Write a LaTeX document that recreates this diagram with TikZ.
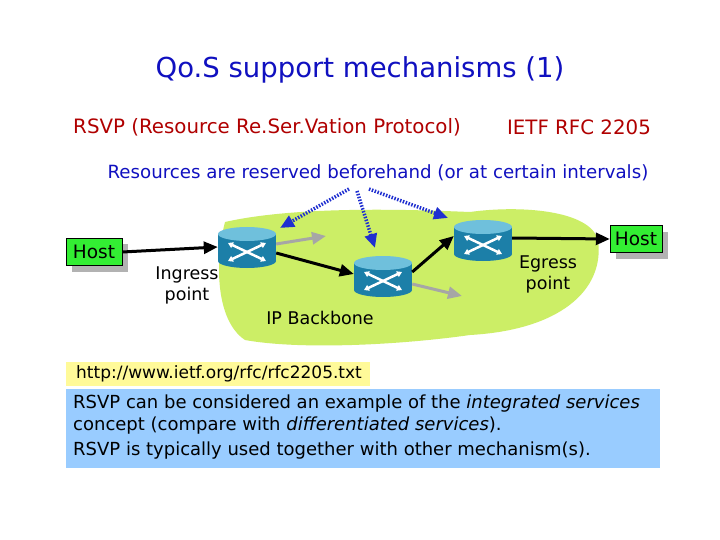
\documentclass[tikz,border=0pt]{standalone}
\usepackage{fontspec}
\setmainfont{DejaVu Sans}
\usetikzlibrary{arrows.meta,shapes.geometric,calc}
\definecolor{tblue}{HTML}{1010C0}
\definecolor{tred}{HTML}{B00000}
\definecolor{blob}{HTML}{CCEE66}
\definecolor{hostg}{HTML}{33EE33}
\definecolor{rtr}{HTML}{1C7FA8}
\definecolor{rtrtop}{HTML}{6FC0DC}
\definecolor{dotb}{HTML}{1F2FD0}
\tikzset{
 host/.style={draw=black,fill=hostg,font=\fontsize{18.5}{20}\selectfont,minimum width=56pt,minimum height=27pt,inner sep=2pt},
 lbl/.style={font=\fontsize{17.5}{21}\selectfont,align=center},
 blk/.style={-{Triangle[length=14pt,width=12pt]},line width=3pt},
 gry/.style={-{Triangle[length=14pt,width=12pt]},line width=3pt,gray!70},
 dots/.style={-{Triangle[length=14pt,width=12pt]},line width=3.5pt,dotb,dash pattern=on 1.5pt off 1.5pt},
}
\newcommand{\router}[2]{%
 \node[minimum width=58pt,minimum height=44pt,inner sep=0] (#1) at #2 {};
 \fill[rtr] ($(#1.center)+(-29,-13)$) rectangle ($(#1.center)+(29,14)$);
 \fill[rtr] ($(#1.center)+(0,14)$) ellipse (29pt and 7pt);
 \fill[rtrtop] ($(#1.center)+(0,-13)$) ellipse (29pt and 7pt);
 \draw[white,line width=2.5pt,{Triangle[length=5pt,width=6pt]}-{Triangle[length=5pt,width=6pt]}] ($(#1.center)+(-19,-4)$) -- ($(#1.center)+(19,14)$);
 \draw[white,line width=2.5pt,{Triangle[length=5pt,width=6pt]}-{Triangle[length=5pt,width=6pt]}] ($(#1.center)+(-19,14)$) -- ($(#1.center)+(19,-4)$);
}
\begin{document}
\begin{tikzpicture}[x=1pt,y=-1pt]
\useasboundingbox (0,0) rectangle (720,540);
\fill[white] (0,0) rectangle (720,540);
\node[font=\fontsize{27.5}{30}\selectfont,text=tblue] (title) at (360,70) {Qo.S support mechanisms (1)};
\node[font=\fontsize{19.8}{22}\selectfont,text=tred] (rsvp) at (267,127) {RSVP (Resource Re.Ser.Vation Protocol)};
\node[font=\fontsize{19.8}{22}\selectfont,text=tred] (ietf) at (579,127) {IETF RFC 2205};
\node[font=\fontsize{18.2}{20}\selectfont,text=tblue] (res) at (378,173) {Resources are reserved beforehand (or at certain intervals)};
% blob
\fill[blob] (225,222) .. controls (300,205) and (420,210) .. (470,212)
 .. controls (520,205) and (590,210) .. (598,240)
 .. controls (605,290) and (560,330) .. (470,335)
 .. controls (400,345) and (300,350) .. (245,340)
 .. controls (215,320) and (215,260) .. (225,222) -- cycle;
% hosts
\fill[gray!60] (72,244) rectangle (128,272);
\node[host] (h1) at (94,252) {Host};
\fill[gray!60] (616,232) rectangle (668,259);
\node[host,minimum width=52pt] (h2) at (636,239) {Host};
\router{r1}{(247,247)}
\router{r2}{(383,276)}
\router{r3}{(483,240)}
\coordinate (g1) at (326,236);
\coordinate (g2) at (462,296);
\draw[gry] (r1.east) ++(0,-3) -- (g1);
\draw[gry] (r2.east) ++(0,8) -- (g2);
\draw[blk] (h1.east) -- (r1.west);
\draw[blk] ($(r1.east)+(0,6)$) -- ($(r2.west)+(0,-2)$);
\draw[blk] ($(r2.east)+(0,-4)$) -- ($(r3.west)+(0,-4)$);
\draw[blk] (r3.east) ++(0,-2) -- (h2.west);
\coordinate (src) at (357,187);
\coordinate (d1) at (280,228);
\coordinate (d2) at (375,248);
\coordinate (d3) at (448,218);
\draw[dots] (src) ++(-8,2) -- (d1);
\draw[dots] (src) ++(0,4) -- (d2);
\draw[dots] (src) ++(12,2) -- (d3);
\node[lbl] (ing) at (187,285) {Ingress\\point};
\node[lbl] (egr) at (548,274) {Egress\\point};
\node[lbl] (ipb) at (320,318) {IP Backbone};
\node[fill=yellow!40!white,minimum width=304pt,minimum height=24pt,inner sep=0] (url) at (218,374) {};
\node[anchor=west,inner sep=0,font=\fontsize{17}{18}\selectfont] (urlt) at (76,374) {http://www.ietf.org/rfc/rfc2205.txt};
\node[fill={rgb,255:red,153;green,204;blue,255},minimum width=594pt,minimum height=79pt,inner sep=0] (txt) at (363,428.5) {};
\node[anchor=north west,align=left,font=\fontsize{18}{25}\selectfont,inner sep=0] (txtt) at (73,395) {RSVP can be considered an example of the \textit{integrated services}\\[-3pt] concept (compare with \textit{differentiated services}).\\ RSVP is typically used together with other mechanism(s).};
\end{tikzpicture}
\end{document}
